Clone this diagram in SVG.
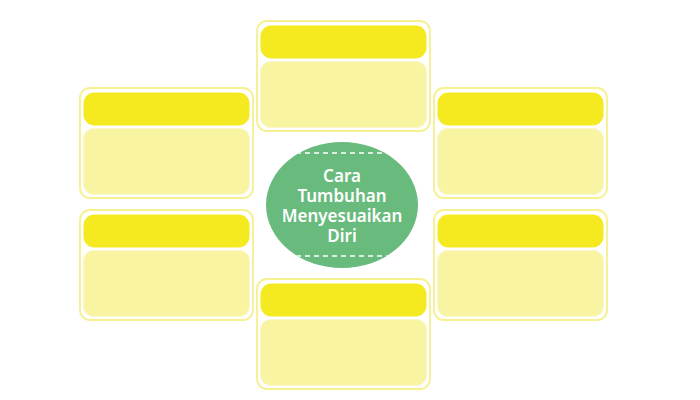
<svg xmlns="http://www.w3.org/2000/svg" width="700" height="400" viewBox="0 0 700 400">
  <style>
    .outer { fill: #ffffff; stroke: #f6f08e; stroke-width: 1.8; }
    .head { fill: #f5e91f; }
    .body { fill: #f8f4a2; stroke: #fbf8cc; stroke-width: 1; }
    .title { font-family: "Noto Sans", "Liberation Sans", sans-serif; font-size: 17px; font-weight: 600; fill: #ffffff; text-anchor: middle; }
    .dash { stroke: #ffffff; stroke-width: 1.5; stroke-dasharray: 5 4; fill: none; }
  </style>
  <defs>
    <g id="card">
      <rect class="outer" x="0" y="0" width="173" height="110" rx="10"/>
      <rect class="head" x="3.5" y="4.5" width="166" height="33" rx="11"/>
      <rect class="body" x="3.5" y="40.5" width="166" height="66" rx="10"/>
    </g>
    <clipPath id="ellClip">
      <ellipse cx="342" cy="205" rx="76" ry="63"/>
    </clipPath>
  </defs>
  <rect width="700" height="400" fill="#ffffff"/>
  <g id="connectors"></g>
  <g id="card-top"><use href="#card" x="257" y="21"/></g>
  <g id="card-left-1"><use href="#card" x="80" y="88"/></g>
  <g id="card-right-1"><use href="#card" x="434" y="88"/></g>
  <g id="card-left-2"><use href="#card" x="80" y="210"/></g>
  <g id="card-right-2"><use href="#card" x="434" y="210"/></g>
  <g id="card-bottom"><use href="#card" x="257" y="279"/></g>
  <g id="center">
    <ellipse cx="342" cy="205" rx="76" ry="63" fill="#68bb7c"/>
    <g clip-path="url(#ellClip)">
      <line class="dash" x1="260" y1="153" x2="425" y2="153"/>
      <line class="dash" x1="260" y1="256" x2="425" y2="256"/>
    </g>
    <text class="title" x="342" y="182">Cara</text>
    <text class="title" x="342" y="202">Tumbuhan</text>
    <text class="title" x="342" y="222">Menyesuaikan</text>
    <text class="title" x="342" y="242">Diri</text>
  </g>
</svg>
